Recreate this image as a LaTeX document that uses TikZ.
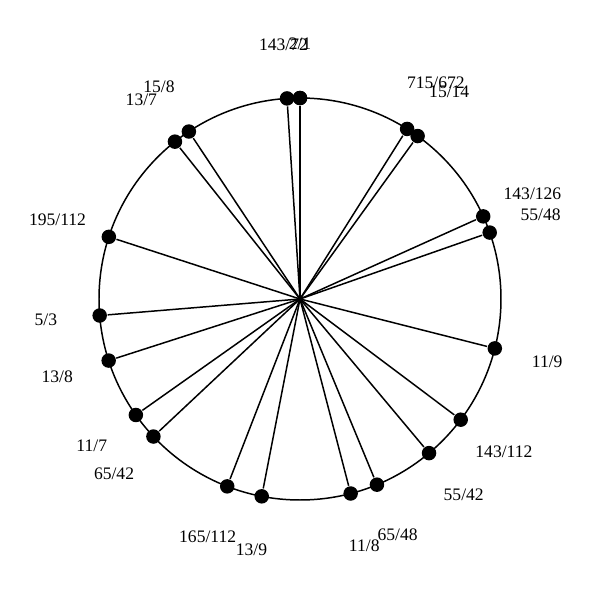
\documentclass[tikz,border=0pt]{standalone}
\usepackage{fontspec}
\setmainfont{Liberation Serif}
\usepackage{tikz}
\tikzset{>=latex}
\tikzset{tone/.style={circle,fill=black,inner sep=0pt,minimum size=2.9mm},
  ratio/.style={font=\fontsize{10pt}{12pt}\selectfont,inner sep=0pt}}

\begin{document}
\begin{tikzpicture}[x=0.02cm,y=0.02cm,line width=0.85pt]
\useasboundingbox (0,0) rectangle (600,600);
\coordinate (o) at (300,301);
\draw (o) circle [radius=201];
\foreach \p/\q in {1/1,2/1,143/72,715/672,15/14,143/126,55/48,11/9,143/112,55/42,65/48,11/8,13/9,165/112,65/42,11/7,13/8,5/3,195/112,13/7,15/8}
{
\pgfmathsetmacro\ang{90-360*ln(\p/\q)/ln(2)}
\node [tone] (d\p-\q) at ([shift={(\ang:201)}]o) {};
\draw (o) -- (d\p-\q);
}
\foreach \p/\q in {2/1,143/72,715/672,15/14,143/126,55/48,11/9,143/112,55/42,65/48,11/8,13/9,165/112,65/42,11/7,13/8,5/3,195/112,13/7,15/8}
{
\pgfmathsetmacro\ang{90-360*ln(\p/\q)/ln(2)}
\node [ratio] (t\p-\q) at ([shift={(\ang:255)}]o) {\p/\q};
}
\end{tikzpicture}
\end{document}
